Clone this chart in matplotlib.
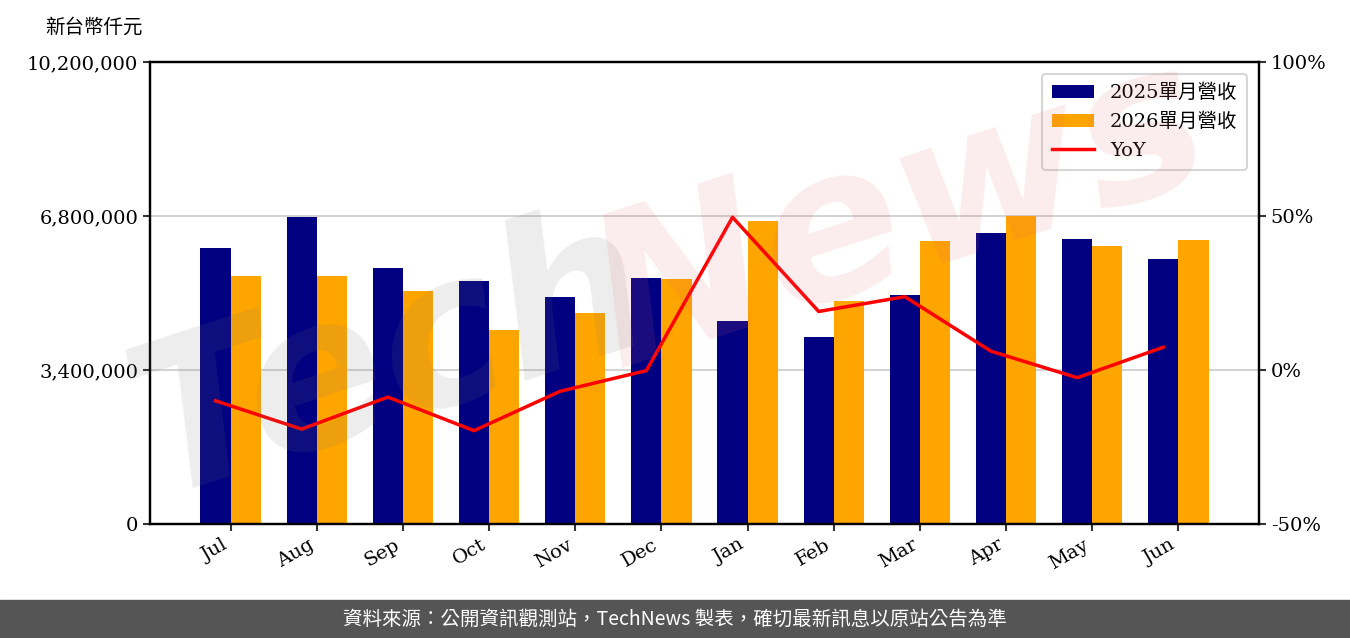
import matplotlib
matplotlib.use('Agg')
import matplotlib.pyplot as plt
import numpy as np
from matplotlib.ticker import FuncFormatter, FixedLocator

plt.rcParams['font.family'] = ['DejaVu Serif', 'Noto Sans CJK TC', 'DejaVu Sans']

# data
months = ['Jul', 'Aug', 'Sep', 'Oct', 'Nov', 'Dec', 'Jan', 'Feb', 'Mar', 'Apr', 'May', 'Jun']
rev_2025 = [6094000, 6785000, 5652000, 5365000, 5012000, 5431000,
            4482000, 4129000, 5056000, 6425000, 6292000, 5851000]
rev_2026 = [5475000, 5475000, 5144000, 4283000, 4658000, 5409000,
            6690000, 4923000, 6248000, 6807000, 6138000, 6270000]
yoy = [-10.0, -19.2, -8.8, -19.7, -6.9, -0.2, 49.6, 19.0, 23.8, 6.1, -2.5, 7.4]
left_ticks = [0, 3400000, 6800000, 10200000]
right_ticks = [-50, 0, 50, 100]

fig = plt.figure(figsize=(13.5, 6.38), dpi=100)
ax = fig.add_axes([150/1350, 1-524/638, (1259-150)/1350, (524-62)/638])
ax2 = ax.twinx()

x = np.arange(len(months))
w = 0.35
ax.bar(x - w/2, rev_2025, w, color='#000080', label='2025單月營收', zorder=2)
ax.bar(x + w/2, rev_2026, w, color='#FFA500', label='2026單月營收', zorder=2)
ax2.plot(x - w/2, yoy, color='red', lw=2.5, label='YoY', zorder=3)

ax.set_ylim(0, 10200000)
ax.yaxis.set_major_locator(FixedLocator(left_ticks))
ax.yaxis.set_major_formatter(FuncFormatter(lambda v, p: f'{int(v):,}'))
ax.grid(axis='y', color='#d3d3d3', lw=1.5, zorder=0)
ax.set_axisbelow(True)

ax2.set_ylim(-50, 100)
ax2.yaxis.set_major_locator(FixedLocator(right_ticks))
ax2.yaxis.set_major_formatter(FuncFormatter(lambda v, p: f'{int(v)}%'))

ax.set_xticks(x)
ax.set_xticklabels(months, rotation=30, ha='right')

for a in (ax, ax2):
    a.tick_params(labelsize=14, width=1.5, length=5, color='#333333')
    for s in a.spines.values():
        s.set_linewidth(1.6)

h1, l1 = ax.get_legend_handles_labels()
h2, l2 = ax2.get_legend_handles_labels()
leg = ax2.legend(h1 + h2, l1 + l2, loc='upper right', fontsize=14,
                 handlelength=2.2, borderpad=0.5, labelspacing=0.55,
                 bbox_to_anchor=(0.998, 0.995))
leg.get_frame().set_edgecolor('#cccccc')
leg.get_frame().set_linewidth(1.5)

fig.text(45/1350, 1-27/638, '新台幣仟元', fontsize=14, va='center', ha='left')

# watermark
fig.text(390/1350, 1-360/638, 'Tech', fontsize=150, color='#777777', alpha=0.13,
         rotation=18, ha='center', va='center', fontweight='bold', style='italic',
         family=['DejaVu Sans'], zorder=10)
fig.text(900/1350, 1-215/638, 'News', fontsize=150, color='#e06070', alpha=0.12,
         rotation=18, ha='center', va='center', fontweight='bold', style='italic',
         family=['DejaVu Sans'], zorder=10)

# footer
fig.patches.append(plt.Rectangle((0, 0), 1, 38/638, transform=fig.transFigure,
                                 color='#555555', zorder=0))
fig.text(0.5, 19/638, '資料來源：公開資訊觀測站，TechNews 製表，確切最新訊息以原站公告為準',
         color='white', fontsize=14, ha='center', va='center',
         family=['Noto Sans CJK TC', 'DejaVu Sans'])

fig.savefig('out.png', dpi=100)
